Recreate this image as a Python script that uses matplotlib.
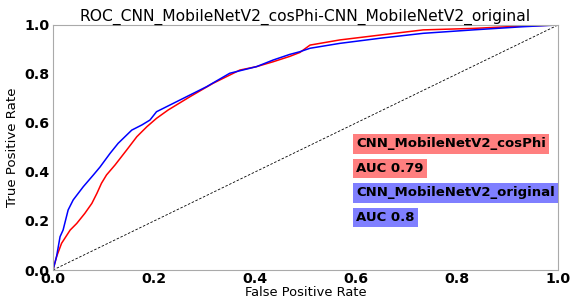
import matplotlib
matplotlib.use("Agg")
import matplotlib.pyplot as plt

title = "ROC_CNN_MobileNetV2_cosPhi-CNN_MobileNetV2_original"
name_a = "CNN_MobileNetV2_cosPhi"
name_b = "CNN_MobileNetV2_original"
auc_a = 0.79
auc_b = 0.8

fpr_a = [0.0, 0.007, 0.017, 0.034, 0.047, 0.063, 0.077, 0.087, 0.096, 0.106, 0.123,
         0.146, 0.166, 0.186, 0.205, 0.228, 0.271, 0.317, 0.370, 0.403, 0.436, 0.469,
         0.489, 0.509, 0.568, 0.648, 0.733, 0.832, 0.931, 1.0]
tpr_a = [0.0, 0.054, 0.109, 0.163, 0.190, 0.231, 0.272, 0.313, 0.354, 0.388, 0.429,
         0.490, 0.544, 0.585, 0.619, 0.653, 0.707, 0.762, 0.816, 0.830, 0.850, 0.872,
         0.888, 0.918, 0.939, 0.959, 0.980, 0.986, 0.996, 1.0]

fpr_b = [0.0, 0.007, 0.014, 0.020, 0.030, 0.040, 0.060, 0.080, 0.093, 0.113, 0.129,
         0.156, 0.176, 0.192, 0.205, 0.238, 0.271, 0.304, 0.350, 0.403, 0.436, 0.469,
         0.489, 0.509, 0.568, 0.648, 0.733, 0.832, 0.931, 1.0]
tpr_b = [0.0, 0.054, 0.136, 0.163, 0.245, 0.286, 0.340, 0.388, 0.420, 0.476, 0.517,
         0.571, 0.592, 0.612, 0.646, 0.680, 0.714, 0.748, 0.803, 0.830, 0.857, 0.880,
         0.891, 0.905, 0.925, 0.946, 0.966, 0.980, 0.993, 1.0]

fig = plt.figure(figsize=(5.71, 3.0), dpi=100)
ax = fig.add_axes([0.0928, 0.1, 0.8844, 0.8167])

ax.plot([0, 1], [0, 1], linestyle=(0, (3, 2)), color="black", linewidth=0.6)
ax.plot(fpr_a, tpr_a, color="red", linewidth=1.1)
ax.plot(fpr_b, tpr_b, color="blue", linewidth=1.1)

ax.set_xlim(0, 1)
ax.set_ylim(0, 1)
ax.set_xticks([0, 0.2, 0.4, 0.6, 0.8, 1.0])
ax.set_yticks([0, 0.2, 0.4, 0.6, 0.8, 1.0])
ax.tick_params(length=0, labelsize=10.2, pad=2.5)
ax.tick_params(axis="x", pad=1.5)
for lbl in ax.get_xticklabels() + ax.get_yticklabels():
    lbl.set_fontweight("bold")
for s in ax.spines.values():
    s.set_color("#aaaaaa")

ax.set_title(title, fontsize=11.2, pad=3)
ax.set_xlabel("False Positive Rate", fontsize=9.4, labelpad=0)
ax.set_ylabel("True Positive Rate", fontsize=9.6, labelpad=4)

box_a = dict(facecolor="red", alpha=0.5, edgecolor="none", pad=2.5)
box_b = dict(facecolor="blue", alpha=0.5, edgecolor="none", pad=2.5)
ax.text(0.6, 0.5, name_a, fontsize=9.5, fontweight="bold", bbox=box_a)
ax.text(0.6, 0.4, "AUC " + str(auc_a), fontsize=9.5, fontweight="bold", bbox=box_a)
ax.text(0.6, 0.3, name_b, fontsize=9.5, fontweight="bold", bbox=box_b)
ax.text(0.6, 0.2, "AUC " + str(auc_b), fontsize=9.5, fontweight="bold", bbox=box_b)

fig.savefig("out.png", dpi=100)
